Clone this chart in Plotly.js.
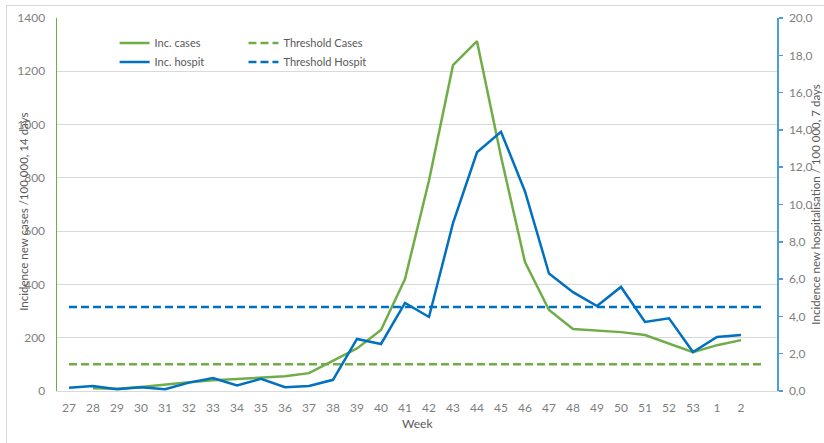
<!DOCTYPE html>
<html>
<head>
<meta charset="utf-8">
<script src="https://cdn.plot.ly/plotly-3.0.1.min.js"></script>
<style>
  html, body { margin: 0; padding: 0; background: #ffffff; }
  #wrap { position: relative; width: 824px; height: 443px; }
  #chart { position: absolute; left: 0; top: 0; width: 824px; height: 443px; }
  #frame { position: absolute; left: 6px; top: 5px; width: 818px; height: 438px;
           border-top: 1px solid #d9d9d9; border-left: 1px solid #d9d9d9; pointer-events: none; }
</style>
</head>
<body>
<div id="wrap">
  <div id="chart"></div>
  <div id="frame"></div>
</div>
<script>
// ---- data ----
const weekLabels = ['27','28','29','30','31','32','33','34','35','36','37','38','39','40',
                    '41','42','43','44','45','46','47','48','49','50','51','52','53','1','2'];
const incCases = [null,10,8,15,25,33,40,45,50,55,67,115,160,229,420,790,1223,1313,880,
                  484,304,233,226,221,210,178,146,172,191];
const incHospit = [0.18,0.27,0.1,0.2,0.1,0.45,0.7,0.3,0.65,0.2,0.27,0.6,2.79,2.52,4.72,
                   3.97,9.0,12.8,13.9,10.7,6.3,5.3,4.56,5.58,3.7,3.9,2.09,2.9,3.0];
const thresholdCases = [100,100,100,100,100,100,100,100,100,100,100,100,100,100,100,
                        100,100,100,100,100,100,100,100,100,100,100,100,100,100,100];
const thresholdHospit = [4.5,4.5,4.5,4.5,4.5,4.5,4.5,4.5,4.5,4.5,4.5,4.5,4.5,4.5,4.5,
                         4.5,4.5,4.5,4.5,4.5,4.5,4.5,4.5,4.5,4.5,4.5,4.5,4.5,4.5,4.5];
const leftTicks = [0,200,400,600,800,1000,1200,1400];
const rightTicks = [0,2,4,6,8,10,12,14,16,18,20];
const rightTickText = ['0,0','2,0','4,0','6,0','8,0','10,0','12,0','14,0','16,0','18,0','20,0'];

// ---- build ----
const green = '#70AD47';
const blue = '#0070C0';
const xIdx = incCases.map((_, i) => i);
const xThr = thresholdCases.map((_, i) => i);

const traces = [
  { x: xIdx, y: incCases, name: 'Inc. cases', type: 'scatter', mode: 'lines',
    line: { color: green, width: 2.5 }, legend: 'legend', yaxis: 'y' },
  { x: xIdx, y: incHospit, name: 'Inc. hospit', type: 'scatter', mode: 'lines',
    line: { color: blue, width: 2.5 }, legend: 'legend', yaxis: 'y2' },
  { x: xThr, y: thresholdCases, name: 'Threshold Cases', type: 'scatter', mode: 'lines',
    line: { color: green, width: 2.5, dash: '8px,4px' }, legend: 'legend2', yaxis: 'y' },
  { x: xThr, y: thresholdHospit, name: 'Threshold Hospit', type: 'scatter', mode: 'lines',
    line: { color: blue, width: 2.5, dash: '8px,4px' }, legend: 'legend2', yaxis: 'y2' }
];

const fontFam = 'Lato, "Open Sans", sans-serif';
const tickFont = { family: fontFam, size: 12, color: '#7f7f7f' };

const layout = {
  width: 824, height: 443,
  margin: { l: 57, r: 47, t: 18, b: 52, pad: 0 },
  paper_bgcolor: 'rgba(0,0,0,0)',
  plot_bgcolor: '#ffffff',
  font: { family: fontFam, size: 12, color: '#595959' },
  showlegend: true,
  xaxis: {
    range: [-0.5, 29.5],
    tickmode: 'array',
    tickvals: weekLabels.map((_, i) => i),
    ticktext: weekLabels,
    showgrid: false, zeroline: false,
    showline: true, linecolor: '#d9d9d9', linewidth: 1,
    ticks: '', tickfont: tickFont, ticklabelstandoff: 6,
    fixedrange: true
  },
  yaxis: {
    range: [0, 1400],
    tickmode: 'array', tickvals: leftTicks,
    showgrid: true, gridcolor: '#d9d9d9', gridwidth: 1,
    zeroline: false,
    showline: true, linecolor: green, linewidth: 1.5,
    ticks: '', tickfont: tickFont, ticklabelstandoff: 8,
    fixedrange: true
  },
  yaxis2: {
    range: [0, 20], overlaying: 'y', side: 'right',
    tickmode: 'array', tickvals: rightTicks, ticktext: rightTickText,
    showgrid: false, zeroline: false,
    showline: true, linecolor: '#4a9ee0', linewidth: 1.5,
    ticks: 'outside', ticklen: 4, tickcolor: '#4a9ee0', tickwidth: 1.5,
    tickfont: tickFont, ticklabelstandoff: 4,
    fixedrange: true
  },
  legend: {
    x: 0.08, y: 0.972, xanchor: 'left', yanchor: 'top',
    bgcolor: 'rgba(0,0,0,0)', font: { family: fontFam, size: 11, color: '#595959' },
    tracegroupgap: 0, itemwidth: 30, orientation: 'v'
  },
  legend2: {
    x: 0.259, y: 0.972, xanchor: 'left', yanchor: 'top',
    bgcolor: 'rgba(0,0,0,0)', font: { family: fontFam, size: 11, color: '#595959' },
    tracegroupgap: 0, itemwidth: 30, orientation: 'v'
  },
  annotations: [
    { text: 'Incidence new cases /100 000, 14 days', xref: 'paper', yref: 'paper',
      x: -0.046, y: 0.48, xanchor: 'center', yanchor: 'middle', textangle: -90,
      showarrow: false, font: { family: fontFam, size: 11.5, color: '#595959' } },
    { text: 'Incidence new hospitalisation / 100 000, 7 days', xref: 'paper', yref: 'paper',
      x: 1.053, y: 0.5, xanchor: 'center', yanchor: 'middle', textangle: -90,
      showarrow: false, font: { family: fontFam, size: 11.5, color: '#595959' } },
    { text: 'Week', xref: 'paper', yref: 'paper',
      x: 0.5, y: -0.088, xanchor: 'center', yanchor: 'middle',
      showarrow: false, font: { family: fontFam, size: 12, color: '#595959' } }
  ]
};

Plotly.newPlot('chart', traces, layout, { displayModeBar: false, staticPlot: true });
</script>
</body>
</html>
